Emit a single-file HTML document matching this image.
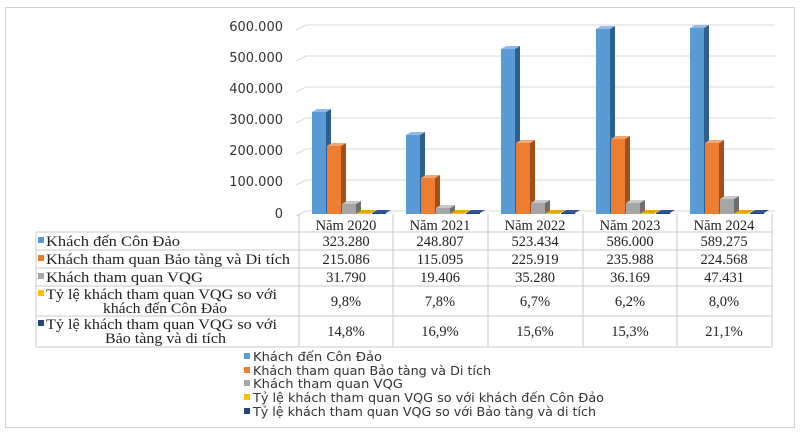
<!DOCTYPE html>
<html><head><meta charset="utf-8"><style>
body{margin:0;background:#fff}
svg{display:block}
text{font-family:"Liberation Serif",serif;font-size:14.5px;fill:#222}
.s{font-family:"DejaVu Sans","Liberation Sans",sans-serif;font-size:12px;fill:#333}
</style></head><body>
<svg width="800" height="435" viewBox="0 0 800 435">
<rect x="5.5" y="7.5" width="789" height="420" fill="#fff" stroke="#d0d0d0"/>
<g stroke="#d9d9d9" fill="none">
<path d="M296 30 L306 25 H775"/><path d="M296 61 L306 56 H775"/><path d="M296 92 L306 87 H775"/>
<path d="M296 123 L306 118 H775"/><path d="M296 154 L306 149 H775"/><path d="M296 185 L306 180 H775"/>
<path d="M296 216 L306 211 H775"/>
</g>
<g text-anchor="end">
<text class="s" x="283" y="31" style="font-size:13px">600.000</text><text class="s" x="283" y="62" style="font-size:13px">500.000</text>
<text class="s" x="283" y="93" style="font-size:13px">400.000</text><text class="s" x="283" y="124" style="font-size:13px">300.000</text>
<text class="s" x="283" y="155" style="font-size:13px">200.000</text><text class="s" x="283" y="186" style="font-size:13px">100.000</text>
<text class="s" x="283" y="218" style="font-size:13px">0</text>
</g>
<g>
<g transform="translate(312,214)"><polygon points="14,-102 19,-105 19,-3 14,0" fill="#2e5f8f"/><polygon points="0,-102 5,-105 19,-105 14,-102" fill="#8fbbe6"/><rect y="-102" width="14" height="102" fill="#5b9bd5"/></g>
<g transform="translate(327,214)"><polygon points="14,-68 19,-71 19,-3 14,0" fill="#a0501a"/><polygon points="0,-68 5,-71 19,-71 14,-68" fill="#f5a66e"/><rect y="-68" width="14" height="68" fill="#ed7d31"/></g>
<g transform="translate(342,214)"><polygon points="14,-10 19,-13 19,-3 14,0" fill="#6e6e6e"/><polygon points="0,-10 5,-13 19,-13 14,-10" fill="#c8c8c8"/><rect y="-10" width="14" height="10" fill="#a5a5a5"/></g>
<g transform="translate(357,214)"><polygon points="0,-1 5,-4 19,-4 14,-1" fill="#e0a800"/><rect y="-1" width="14" height="1" fill="#ffc000"/></g>
<g transform="translate(372,214)"><polygon points="0,-1 5,-4 19,-4 14,-1" fill="#2f5597"/><rect y="-1" width="14" height="1" fill="#264478"/></g>
<g transform="translate(406,214)"><polygon points="14,-79 19,-82 19,-3 14,0" fill="#2e5f8f"/><polygon points="0,-79 5,-82 19,-82 14,-79" fill="#8fbbe6"/><rect y="-79" width="14" height="79" fill="#5b9bd5"/></g>
<g transform="translate(421,214)"><polygon points="14,-36 19,-39 19,-3 14,0" fill="#a0501a"/><polygon points="0,-36 5,-39 19,-39 14,-36" fill="#f5a66e"/><rect y="-36" width="14" height="36" fill="#ed7d31"/></g>
<g transform="translate(436,214)"><polygon points="14,-6 19,-9 19,-3 14,0" fill="#6e6e6e"/><polygon points="0,-6 5,-9 19,-9 14,-6" fill="#c8c8c8"/><rect y="-6" width="14" height="6" fill="#a5a5a5"/></g>
<g transform="translate(451,214)"><polygon points="0,-1 5,-4 19,-4 14,-1" fill="#e0a800"/><rect y="-1" width="14" height="1" fill="#ffc000"/></g>
<g transform="translate(466,214)"><polygon points="0,-1 5,-4 19,-4 14,-1" fill="#2f5597"/><rect y="-1" width="14" height="1" fill="#264478"/></g>
<g transform="translate(501,214)"><polygon points="14,-165 19,-168 19,-3 14,0" fill="#2e5f8f"/><polygon points="0,-165 5,-168 19,-168 14,-165" fill="#8fbbe6"/><rect y="-165" width="14" height="165" fill="#5b9bd5"/></g>
<g transform="translate(516,214)"><polygon points="14,-71 19,-74 19,-3 14,0" fill="#a0501a"/><polygon points="0,-71 5,-74 19,-74 14,-71" fill="#f5a66e"/><rect y="-71" width="14" height="71" fill="#ed7d31"/></g>
<g transform="translate(531,214)"><polygon points="14,-11 19,-14 19,-3 14,0" fill="#6e6e6e"/><polygon points="0,-11 5,-14 19,-14 14,-11" fill="#c8c8c8"/><rect y="-11" width="14" height="11" fill="#a5a5a5"/></g>
<g transform="translate(546,214)"><polygon points="0,-1 5,-4 19,-4 14,-1" fill="#e0a800"/><rect y="-1" width="14" height="1" fill="#ffc000"/></g>
<g transform="translate(561,214)"><polygon points="0,-1 5,-4 19,-4 14,-1" fill="#2f5597"/><rect y="-1" width="14" height="1" fill="#264478"/></g>
<g transform="translate(596,214)"><polygon points="14,-185 19,-188 19,-3 14,0" fill="#2e5f8f"/><polygon points="0,-185 5,-188 19,-188 14,-185" fill="#8fbbe6"/><rect y="-185" width="14" height="185" fill="#5b9bd5"/></g>
<g transform="translate(611,214)"><polygon points="14,-75 19,-78 19,-3 14,0" fill="#a0501a"/><polygon points="0,-75 5,-78 19,-78 14,-75" fill="#f5a66e"/><rect y="-75" width="14" height="75" fill="#ed7d31"/></g>
<g transform="translate(626,214)"><polygon points="14,-11 19,-14 19,-3 14,0" fill="#6e6e6e"/><polygon points="0,-11 5,-14 19,-14 14,-11" fill="#c8c8c8"/><rect y="-11" width="14" height="11" fill="#a5a5a5"/></g>
<g transform="translate(641,214)"><polygon points="0,-1 5,-4 19,-4 14,-1" fill="#e0a800"/><rect y="-1" width="14" height="1" fill="#ffc000"/></g>
<g transform="translate(656,214)"><polygon points="0,-1 5,-4 19,-4 14,-1" fill="#2f5597"/><rect y="-1" width="14" height="1" fill="#264478"/></g>
<g transform="translate(690,214)"><polygon points="14,-186 19,-189 19,-3 14,0" fill="#2e5f8f"/><polygon points="0,-186 5,-189 19,-189 14,-186" fill="#8fbbe6"/><rect y="-186" width="14" height="186" fill="#5b9bd5"/></g>
<g transform="translate(705,214)"><polygon points="14,-71 19,-74 19,-3 14,0" fill="#a0501a"/><polygon points="0,-71 5,-74 19,-74 14,-71" fill="#f5a66e"/><rect y="-71" width="14" height="71" fill="#ed7d31"/></g>
<g transform="translate(720,214)"><polygon points="14,-15 19,-18 19,-3 14,0" fill="#6e6e6e"/><polygon points="0,-15 5,-18 19,-18 14,-15" fill="#c8c8c8"/><rect y="-15" width="14" height="15" fill="#a5a5a5"/></g>
<g transform="translate(735,214)"><polygon points="0,-1 5,-4 19,-4 14,-1" fill="#e0a800"/><rect y="-1" width="14" height="1" fill="#ffc000"/></g>
<g transform="translate(750,214)"><polygon points="0,-1 5,-4 19,-4 14,-1" fill="#2f5597"/><rect y="-1" width="14" height="1" fill="#264478"/></g>
</g>
<g stroke="#c8c8c8" fill="none">
<path d="M36 232 H772 M36 250 H772 M36 268 H772 M36 286 H772 M36 316 H772 M36 347 H772"/>
<path d="M299 214 V347 M393 214 V347 M488 214 V347 M583 214 V347 M677 214 V347 M772 214 V347 M36 232 V347"/>
</g>
<g text-anchor="middle">
<text x="346" y="230">Năm 2020</text><text x="440" y="230">Năm 2021</text><text x="535" y="230">Năm 2022</text><text x="630" y="230">Năm 2023</text><text x="724" y="230">Năm 2024</text>
<text x="346" y="246">323.280</text><text x="440" y="246">248.807</text><text x="535" y="246">523.434</text><text x="630" y="246">586.000</text><text x="724" y="246">589.275</text>
<text x="346" y="264">215.086</text><text x="440" y="264">115.095</text><text x="535" y="264">225.919</text><text x="630" y="264">235.988</text><text x="724" y="264">224.568</text>
<text x="346" y="282">31.790</text><text x="440" y="282">19.406</text><text x="535" y="282">35.280</text><text x="630" y="282">36.169</text><text x="724" y="282">47.431</text>
<text x="346" y="306">9,8%</text><text x="440" y="306">7,8%</text><text x="535" y="306">6,7%</text><text x="630" y="306">6,2%</text><text x="724" y="306">8,0%</text>
<text x="346" y="336">14,8%</text><text x="440" y="336">16,9%</text><text x="535" y="336">15,6%</text><text x="630" y="336">15,3%</text><text x="724" y="336">21,1%</text>
</g>
<rect x="38" y="237" width="6" height="6" fill="#5b9bd5"/><text x="46" y="246" textLength="134" lengthAdjust="spacingAndGlyphs">Khách đến Côn Đảo</text>
<rect x="38" y="255" width="6" height="6" fill="#ed7d31"/><text x="46" y="264" textLength="244" lengthAdjust="spacingAndGlyphs">Khách tham quan Bảo tàng và Di tích</text>
<rect x="38" y="273" width="6" height="6" fill="#a5a5a5"/><text x="46" y="282" textLength="157" lengthAdjust="spacingAndGlyphs">Khách tham quan VQG</text>
<rect x="38" y="290" width="6" height="6" fill="#ffc000"/><text x="46" y="299" textLength="231" lengthAdjust="spacingAndGlyphs">Tỷ lệ khách tham quan VQG so với</text><text x="103" y="313" textLength="124" lengthAdjust="spacingAndGlyphs">khách đến Côn Đảo</text>
<rect x="38" y="320" width="6" height="6" fill="#264478"/><text x="46" y="329" textLength="231" lengthAdjust="spacingAndGlyphs">Tỷ lệ khách tham quan VQG so với</text><text x="105" y="343" textLength="121" lengthAdjust="spacingAndGlyphs">Bảo tàng và di tích</text>
<rect x="244" y="353" width="6" height="6" fill="#5b9bd5"/><text class="s" x="253" y="361" textLength="129" lengthAdjust="spacingAndGlyphs">Khách đến Côn Đảo</text>
<rect x="244" y="367" width="6" height="6" fill="#ed7d31"/><text class="s" x="253" y="375" textLength="238" lengthAdjust="spacingAndGlyphs">Khách tham quan Bảo tàng và Di tích</text>
<rect x="244" y="380" width="6" height="6" fill="#a5a5a5"/><text class="s" x="253" y="388" textLength="150" lengthAdjust="spacingAndGlyphs">Khách tham quan VQG</text>
<rect x="244" y="394" width="6" height="6" fill="#ffc000"/><text class="s" x="253" y="402" textLength="351" lengthAdjust="spacingAndGlyphs">Tỷ lệ khách tham quan VQG so với khách đến Côn Đảo</text>
<rect x="244" y="408" width="6" height="6" fill="#264478"/><text class="s" x="253" y="416" textLength="343" lengthAdjust="spacingAndGlyphs">Tỷ lệ khách tham quan VQG so với Bảo tàng và di tích</text>
</svg>
</body></html>
